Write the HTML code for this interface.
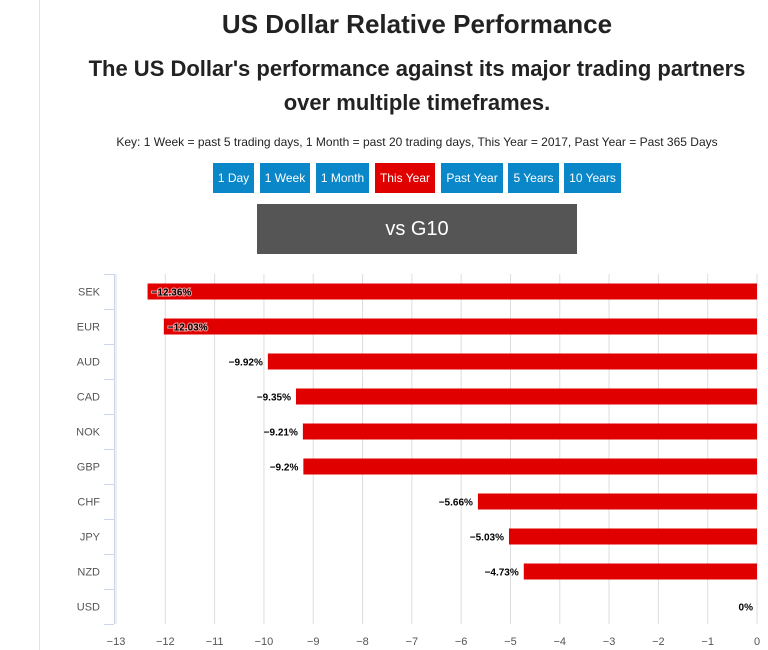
<!DOCTYPE html>
<html><head><meta charset="utf-8"><style>
body{margin:0;width:768px;height:650px;background:#fff;font-family:"Liberation Sans",sans-serif;position:relative;overflow:hidden}
.abs{position:absolute}
.btn{position:absolute;top:163px;height:30px;line-height:30px;background:#0a87c9;color:#fff;font-size:12px;text-align:center}
</style></head><body>
<div class="abs" style="left:39px;top:0;width:1px;height:650px;background:#e3e3e3"></div>
<div class="abs" style="left:117px;width:600px;top:9px;text-align:center;font-size:26px;font-weight:bold;color:#222">US Dollar Relative Performance</div>
<div class="abs" style="left:72px;width:690px;top:52px;text-align:center;font-size:22px;font-weight:bold;color:#222;line-height:34px">The US Dollar's performance against its major trading partners over multiple timeframes.</div>
<div class="abs" style="left:67px;width:700px;top:135px;text-align:center;font-size:12px;color:#222">Key: 1 Week = past 5 trading days, 1 Month = past 20 trading days, This Year = 2017, Past Year = Past 365 Days</div>
<div class="btn" style="left:213px;width:41px">1 Day</div>
<div class="btn" style="left:260px;width:50px">1 Week</div>
<div class="btn" style="left:316px;width:53px">1 Month</div>
<div class="btn" style="left:375px;width:60px;background:#e00000">This Year</div>
<div class="btn" style="left:441px;width:62px">Past Year</div>
<div class="btn" style="left:508px;width:51px">5 Years</div>
<div class="btn" style="left:564px;width:57px">10 Years</div>
<div class="abs" style="left:257px;top:204px;width:320px;height:50px;line-height:50px;background:#555;color:#fff;font-size:20px;text-align:center">vs G10</div>
<svg id="chart" class="abs" style="left:0;top:0" width="768" height="650"></svg>
<script>
const categories=["SEK","EUR","AUD","CAD","NOK","GBP","CHF","JPY","NZD","USD"];
const values=[-12.36,-12.03,-9.92,-9.35,-9.21,-9.2,-5.66,-5.03,-4.73,0];
const labels=["−12.36%","−12.03%","−9.92%","−9.35%","−9.21%","−9.2%","−5.66%","−5.03%","−4.73%","0%"];
const ticks=[-13,-12,-11,-10,-9,-8,-7,-6,-5,-4,-3,-2,-1,0];
const NS="http://www.w3.org/2000/svg";
const svg=document.getElementById('chart');
const x0=116,x1=757,top0=274,rowH=35;
const xs=v=>x0+(v+13)/13*(x1-x0);
const yc=i=>top0+rowH*i+rowH/2;
function mk(t,a){const e=document.createElementNS(NS,t);for(const k in a)e.setAttribute(k,a[k]);svg.appendChild(e);return e;}
ticks.forEach(t=>{
 const g=mk('line',{x1:xs(t),x2:xs(t),y1:top0,y2:top0+rowH*categories.length,stroke:'#ddd'});
 
 
 const l=mk('text',{x:xs(t),y:645,'text-anchor':'middle','font-size':11,fill:'#555'});
 l.textContent=t<0?'−'+(-t):String(t);
 
 
});
const ax=mk('line',{x1:x0-1.5,x2:x0-1.5,y1:top0,y2:top0+rowH*categories.length,stroke:'#ccd6eb'});


for(let i=0;i<=categories.length;i++){
 const tk=mk('line',{x1:x0-12,x2:x0-2,y1:top0+rowH*i+0.5,y2:top0+rowH*i+0.5,stroke:'#ccd6eb'});
 
 
}
categories.forEach((c,i)=>{
 const t=mk('text',{x:100,y:yc(i)+4,'text-anchor':'end','font-size':11,fill:'#555'});
 t.textContent=c;
 
 
 const v=values[i];
 if(v!==0){
  const b=mk('rect',{x:xs(v),y:yc(i)-8,width:xs(0)-xs(v),height:16,fill:'#e00000'});
  
  
 }
 const inside=v<-12;
 const lt=mk('text',{x:inside?xs(v)+4:(v===0?xs(0)-4:xs(v)-5),y:yc(i)+4,'text-anchor':inside?'start':'end','font-size':10,'font-weight':'bold',fill:'#000'});
 if(inside){lt.setAttribute('stroke','#fff');lt.setAttribute('stroke-width','2');lt.setAttribute('stroke-opacity','0.6');lt.setAttribute('paint-order','stroke');}
 lt.textContent=labels[i];
 
 
});
</script>
</body></html>
